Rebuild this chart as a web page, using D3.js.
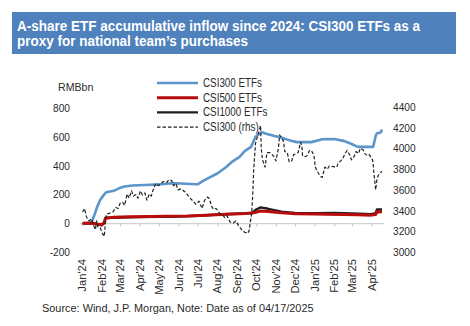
<!DOCTYPE html>
<html>
<head>
<meta charset="utf-8">
<script src="https://cdn.jsdelivr.net/npm/d3@7"></script>
<style>
  html, body { margin: 0; padding: 0; background: #fff; }
  svg { display: block; font-family: "Liberation Sans", Arial, sans-serif; }
</style>
</head>
<body>
<svg id="chart" width="470" height="326"></svg>
<script>
// ---- data ---------------------------------------------------------------
const titleLines = ["A-share ETF accumulative inflow since 2024: CSI300 ETFs as a",
                    "proxy for national team\u2019s purchases"];
const sourceNote = "Source: Wind, J.P. Morgan, Note: Date as of 04/17/2025";
const leftUnit = "RMBbn";
const leftTicks = [-200, 0, 200, 400, 600, 800];
const rightTicks = [3000, 3200, 3400, 3600, 3800, 4000, 4200, 4400];
const monthLabels = ["Jan'24","Feb'24","Mar'24","Apr'24","May'24","Jun'24","Jul'24","Aug'24",
                     "Sep'24","Oct'24","Nov'24","Dec'24","Jan'25","Feb'25","Mar'25","Apr'25"];
const seriesNames = ["CSI300 ETFs", "CSI500 ETFs", "CSI1000 ETFs", "CSI300 (rhs)"];

// cumulative inflow, RMB bn
const csi300Etf = [
  ["2024-01-02",0],["2024-01-10",0],["2024-01-16",4],["2024-01-19",40],["2024-01-22",75],
  ["2024-01-25",115],["2024-01-30",165],["2024-02-05",200],["2024-02-08",215],["2024-02-20",225],
  ["2024-02-28",242],["2024-03-08",255],["2024-03-20",262],["2024-04-10",265],["2024-04-25",268],
  ["2024-05-10",272],["2024-05-20",278],["2024-06-05",276],["2024-06-20",272],["2024-07-01",270],
  ["2024-07-10",295],["2024-07-20",318],["2024-08-01",345],["2024-08-15",390],["2024-08-25",430],
  ["2024-09-05",460],["2024-09-13",500],["2024-09-23",530],["2024-09-30",600],["2024-10-10",632],
  ["2024-10-18",620],["2024-10-30",605],["2024-11-08",597],["2024-11-22",576],["2024-12-04",563],
  ["2024-12-27",563],["2025-01-13",583],["2025-02-01",585],["2025-02-17",570],["2025-03-01",548],
  ["2025-03-10",530],["2025-04-03",530],["2025-04-07",605],["2025-04-09",625],["2025-04-15",630],
  ["2025-04-17",650]
];
const csi500Etf = [
  ["2024-01-02",0],["2024-01-15",2],["2024-01-25",-5],["2024-02-01",-10],["2024-02-05",5],
  ["2024-02-07",35],["2024-02-20",42],["2024-03-15",45],["2024-04-15",47],["2024-05-15",48],
  ["2024-06-15",50],["2024-07-15",55],["2024-08-15",62],["2024-09-15",68],["2024-09-27",72],
  ["2024-10-08",85],["2024-10-20",82],["2024-11-10",72],["2024-12-01",66],["2024-12-31",64],
  ["2025-01-20",62],["2025-02-15",60],["2025-03-10",58],["2025-03-31",56],["2025-04-07",60],
  ["2025-04-09",78],["2025-04-17",80]
];
const csi1000Etf = [
  ["2024-01-02",0],["2024-01-20",-3],["2024-02-01",-15],["2024-02-05",0],["2024-02-07",38],
  ["2024-03-01",40],["2024-04-01",42],["2024-05-01",44],["2024-06-01",46],["2024-07-01",52],
  ["2024-08-01",60],["2024-09-01",66],["2024-09-24",70],["2024-10-01",95],["2024-10-08",110],
  ["2024-10-20",100],["2024-11-10",80],["2024-12-01",72],["2025-01-01",70],["2025-02-01",72],
  ["2025-03-01",68],["2025-03-31",62],["2025-04-07",70],["2025-04-09",95],["2025-04-17",95]
];
// index level, right axis
const csi300Index = [
  ["2024-01-02",3386],["2024-01-05",3420],["2024-01-08",3340],["2024-01-12",3300],["2024-01-16",3320],
  ["2024-01-19",3260],["2024-01-22",3215],["2024-01-24",3300],["2024-01-26",3240],["2024-01-30",3230],
  ["2024-02-02",3180],["2024-02-05",3150],["2024-02-08",3360],["2024-02-19",3390],["2024-02-23",3430],
  ["2024-02-27",3420],["2024-03-01",3470],["2024-03-05",3480],["2024-03-08",3450],["2024-03-12",3560],
  ["2024-03-15",3520],["2024-03-19",3590],["2024-03-22",3540],["2024-03-26",3555],["2024-03-29",3520],
  ["2024-04-02",3590],["2024-04-05",3550],["2024-04-09",3570],["2024-04-12",3500],["2024-04-16",3560],
  ["2024-04-19",3540],["2024-04-23",3620],["2024-04-26",3660],["2024-04-30",3640],["2024-05-08",3680],
  ["2024-05-13",3670],["2024-05-17",3700],["2024-05-21",3690],["2024-05-24",3640],["2024-05-28",3660],
  ["2024-05-31",3600],["2024-06-05",3610],["2024-06-11",3580],["2024-06-14",3560],["2024-06-19",3520],
  ["2024-06-24",3490],["2024-06-28",3460],["2024-07-03",3490],["2024-07-08",3420],["2024-07-12",3500],
  ["2024-07-16",3530],["2024-07-19",3520],["2024-07-23",3440],["2024-07-26",3410],["2024-07-30",3420],
  ["2024-08-05",3370],["2024-08-09",3360],["2024-08-13",3330],["2024-08-16",3350],["2024-08-21",3290],
  ["2024-08-26",3280],["2024-08-30",3300],["2024-09-04",3250],["2024-09-09",3210],["2024-09-13",3190],
  ["2024-09-18",3180],["2024-09-20",3210],["2024-09-24",3380],["2024-09-26",3600],["2024-09-27",3780],
  ["2024-09-30",4050],["2024-10-08",4220],["2024-10-09",4000],["2024-10-11",3890],["2024-10-15",3820],
  ["2024-10-18",3960],["2024-10-22",3960],["2024-10-25",3950],["2024-10-29",3920],["2024-11-01",3880],
  ["2024-11-05",4000],["2024-11-07",4130],["2024-11-11",4090],["2024-11-13",4070],["2024-11-15",3970],
  ["2024-11-19",3960],["2024-11-22",3870],["2024-11-26",3880],["2024-11-29",3940],["2024-12-03",3950],
  ["2024-12-06",3960],["2024-12-10",4060],["2024-12-12",4020],["2024-12-13",3930],["2024-12-17",3920],
  ["2024-12-20",3930],["2024-12-24",3980],["2024-12-27",3980],["2024-12-31",3930],["2025-01-02",3820],
  ["2025-01-06",3770],["2025-01-10",3730],["2025-01-13",3720],["2025-01-17",3820],["2025-01-21",3800],
  ["2025-01-24",3830],["2025-02-05",3820],["2025-02-07",3860],["2025-02-11",3880],["2025-02-14",3900],
  ["2025-02-18",3950],["2025-02-21",3980],["2025-02-25",3940],["2025-02-28",3890],["2025-03-04",3920],
  ["2025-03-07",3970],["2025-03-11",3950],["2025-03-14",4000],["2025-03-18",3990],["2025-03-21",3950],
  ["2025-03-25",3930],["2025-03-28",3940],["2025-04-02",3890],["2025-04-03",3860],["2025-04-04",3780],
  ["2025-04-07",3600],["2025-04-08",3650],["2025-04-09",3700],["2025-04-11",3740],["2025-04-14",3760],
  ["2025-04-17",3780]
];

// ---- setup --------------------------------------------------------------
const parse = d3.timeParse("%Y-%m-%d");
const toPts = arr => arr.map(([d, v]) => ({ date: parse(d), value: v }));

const svg = d3.select("#chart");
const textColor = "#2a2a2a";

const x = d3.scaleTime()
  .domain([parse("2024-01-01"), parse("2025-04-17")])
  .range([82, 382]);
const yL = d3.scaleLinear().domain([-200, 800]).range([252, 108]);
const yR = d3.scaleLinear().domain([3000, 4400]).range([252, 107]);

// horizontally condensed lettering
function narrowText(g, px, py, str, size, sx, anchor, weight, fill) {
  return g.append("g")
    .attr("transform", `translate(${px},${py}) scale(${sx},1)`)
    .append("text")
    .attr("text-anchor", anchor || "start")
    .attr("font-size", size)
    .attr("font-weight", weight || "normal")
    .attr("fill", fill || textColor)
    .text(str);
}

// ---- title band ---------------------------------------------------------
svg.append("rect").attr("x", 12).attr("y", 12).attr("width", 444).attr("height", 42)
  .attr("fill", "#4f81bd");
titleLines.forEach((t, i) => {
  narrowText(svg, 17, 30.5 + i * 15.5, t, 15, 0.9, "start", "bold", "#fff");
});

// ---- axes ---------------------------------------------------------------
const months = d3.timeMonth.range(parse("2024-01-01"), parse("2025-04-02"));
const xAxis = d3.axisBottom(x)
  .tickValues(months)
  .tickSize(3)
  .tickFormat((d, i) => monthLabels[i]);
const gx = svg.append("g").attr("transform", `translate(0,${yL(0)})`).call(xAxis);
gx.select(".domain").attr("stroke", "#c8c8c8").attr("d", `M80,0.5H384`);
gx.selectAll(".tick line").attr("stroke", "#c8c8c8");
gx.selectAll(".tick text").remove();

// month labels, vertical, hung from a common top edge
svg.append("g").selectAll("text").data(months).join("text")
  .attr("transform", d => `translate(${x(d) + 4},259) rotate(-90)`)
  .attr("text-anchor", "end")
  .attr("font-size", 11.2)
  .attr("fill", textColor)
  .text((d, i) => monthLabels[i]);

const gl = svg.append("g");
leftTicks.forEach(v => narrowText(gl, 70, yL(v) + 4, String(v), 11.8, 0.86, "end"));
narrowText(gl, 58, 91, leftUnit, 11.8, 0.9, "start");

const gr = svg.append("g");
rightTicks.forEach(v => narrowText(gr, 393, yR(v) + 4, String(v), 11.8, 0.86, "start"));

// ---- series -------------------------------------------------------------
const lineL = d3.line().x(d => x(d.date)).y(d => yL(d.value));
const lineR = d3.line().x(d => x(d.date)).y(d => yR(d.value));

const styles = [
  { data: csi300Etf, line: lineL, color: "#5b95c9", width: 2.6, dash: null },
  { data: csi1000Etf, line: lineL, color: "#1e1e1e", width: 2.4, dash: null },
  { data: csi500Etf, line: lineL, color: "#b80c0c", width: 3.0, dash: null },
  { data: csi300Index, line: lineR, color: "#222", width: 1.2, dash: "3.5,2" }
];
const plot = svg.append("g").attr("fill", "none").attr("stroke-linejoin", "round");
// draw order: blue, black, red, dashed on top
styles.forEach(s => {
  plot.append("path")
    .datum(toPts(s.data))
    .attr("d", s.line)
    .attr("stroke", s.color)
    .attr("stroke-width", s.width)
    .attr("stroke-dasharray", s.dash);
});

// ---- legend -------------------------------------------------------------
const legendStyle = [styles[0], styles[2], styles[1], styles[3]];
const lg = svg.append("g");
seriesNames.forEach((name, i) => {
  const ly = 83 + i * 14.7;
  const st = legendStyle[i];
  lg.append("line")
    .attr("x1", 157).attr("x2", 198).attr("y1", ly).attr("y2", ly)
    .attr("stroke", st.color).attr("stroke-width", st.width)
    .attr("stroke-dasharray", st.dash);
  narrowText(lg, 203, ly + 4, name, 12, 0.82, "start");
});

// ---- footnote -----------------------------------------------------------
narrowText(svg, 42, 312, sourceNote, 11.5, 0.95, "start");
</script>
</body>
</html>
